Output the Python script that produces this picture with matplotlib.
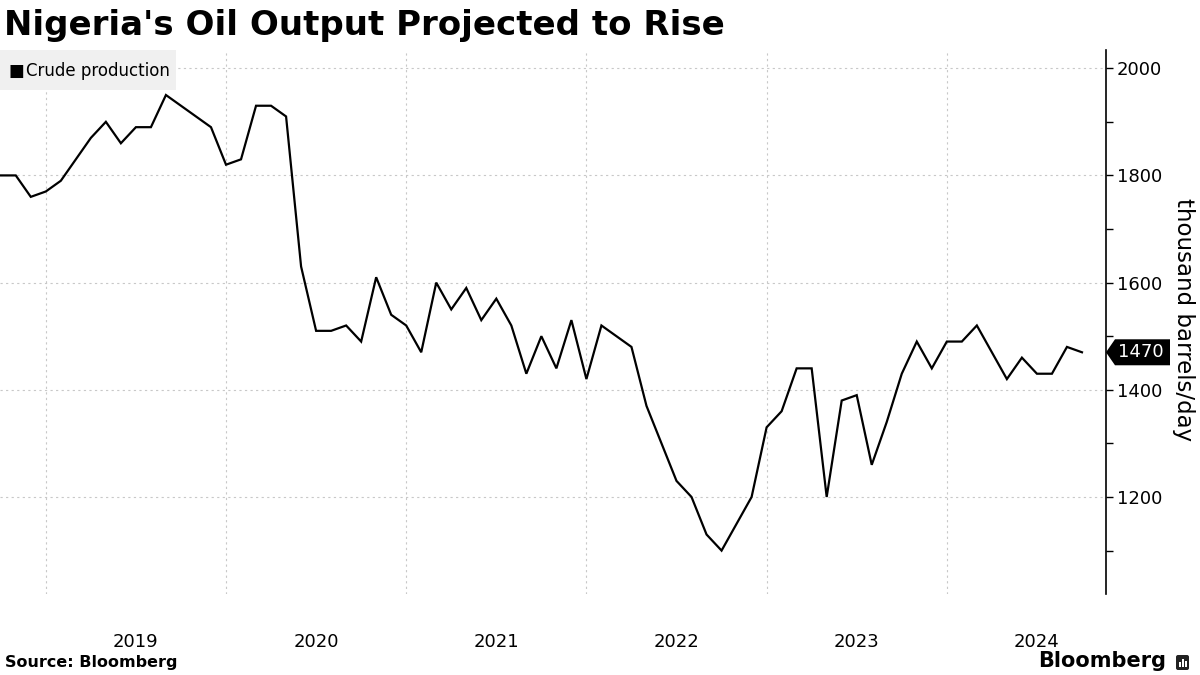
import matplotlib
matplotlib.use("Agg")
import matplotlib.pyplot as plt
from matplotlib.patches import FancyBboxPatch, Polygon, Rectangle
import numpy as np

# Monthly crude production, Oct 2018 .. Oct 2024 (thousand barrels/day)
production = [
    1800, 1800, 1760,                                                   # 2018 Oct-Dec
    1770, 1790, 1830, 1870, 1900, 1860, 1890, 1890, 1950, 1930, 1910, 1890,  # 2019
    1820, 1830, 1930, 1930, 1910, 1630, 1510, 1510, 1520, 1490, 1610, 1540,  # 2020
    1520, 1470, 1600, 1550, 1590, 1530, 1570, 1520, 1430, 1500, 1440, 1530,  # 2021
    1420, 1520, 1500, 1480, 1370, 1300, 1230, 1200, 1130, 1100, 1150, 1200,  # 2022
    1330, 1360, 1440, 1440, 1200, 1380, 1390, 1260, 1340, 1430, 1490, 1440,  # 2023
    1490, 1490, 1520, 1470, 1420, 1460, 1430, 1430, 1480, 1470,              # 2024 Jan-Oct
]
years = ["2019", "2020", "2021", "2022", "2023", "2024"]
y_ticks = [1200, 1400, 1600, 1800, 2000]
y_minor = [1100, 1300, 1500, 1700, 1900]
series_name = "Crude production"
y_label = "thousand barrels/day"
title = "Nigeria's Oil Output Projected to Rise"
source = "Source: Bloomberg"

W, H = 1200, 675
x = np.arange(len(production))
first_jan = 3  # index of Jan 2019
year_starts = [first_jan + 12 * i for i in range(len(years))]
year_mids = [s + 6 for s in year_starts]

fig = plt.figure(figsize=(12, 6.75), dpi=100)
ax = fig.add_axes([0.0, 1 - 594 / H, 1106 / W, (594 - 50) / H])

ax.plot(x, production, color="black", lw=1.6, solid_joinstyle="miter", zorder=3)
ax.set_xlim(-0.05, 73.6)
ax.set_ylim(1019, 2034)

# grid
for s in year_starts:
    ax.axvline(s, color="#c8c8c8", lw=0.8, ls=(0, (2, 3)), zorder=1)
for t in y_ticks:
    ax.axhline(t, color="#c8c8c8", lw=0.8, ls=(0, (2, 3)), zorder=1)

ax.yaxis.tick_right()
ax.set_yticks(y_ticks)
ax.set_yticks(y_minor, minor=True)
ax.set_yticklabels([str(v) for v in y_ticks])
ax.tick_params(axis="y", which="major", direction="out", length=5, width=1,
               labelsize=13, pad=3, colors="black")
ax.tick_params(axis="y", which="minor", direction="out", length=5, width=1)

ax.set_xticks(year_mids)
ax.set_xticklabels(years)
ax.tick_params(axis="x", length=0, labelsize=13, pad=28)

for sp in ["left", "top", "bottom"]:
    ax.spines[sp].set_visible(False)
ax.spines["right"].set_linewidth(1.2)

# last value badge
last = production[-1]
yc = ax.transData.transform((0, last))[1]
tip_x = 1106
hh = 13
badge = Polygon([(tip_x, yc), (tip_x + 9, yc + hh), (1170, yc + hh),
                 (1170, yc - hh), (tip_x + 9, yc - hh)], closed=True,
                transform=None, fc="black", ec="none", zorder=10)
fig.patches.append(badge)
fig.text(1141 / W, yc / H, str(last), fontsize=13, color="white",
         ha="center", va="center", zorder=11)

# legend box
leg_bg = Rectangle((0, H - 90), 176, 40, transform=None, fc="#f0f0f0", ec="none", zorder=0)
fig.patches.append(leg_bg)
fig.text(9 / W, 1 - 71 / H, "\u25A0", fontsize=12, va="center", ha="left")
fig.text(26 / W, 1 - 71 / H, series_name, fontsize=12, va="center", ha="left")

fig.text(4 / W, 1 - 25 / H, title, fontsize=24.5, fontweight="bold",
         va="center", ha="left")
fig.text(1184 / W, 1 - 320 / H, y_label, fontsize=16.5, rotation=270,
         va="center", ha="center")
fig.text(5 / W, 1 - 662 / H, source, fontsize=11.5, fontweight="bold",
         va="center", ha="left")
fig.text(1166 / W, 1 - 661 / H, "Bloomberg", fontsize=15, fontweight="bold",
         va="center", ha="right")
logo = FancyBboxPatch((1176, H - 670), 13, 15, boxstyle="round,pad=0,rounding_size=2",
                      transform=None, fc="#222222", ec="none")
fig.patches.append(logo)
for bx, bh in [(1179, 5), (1182, 8), (1185, 6)]:
    fig.patches.append(Rectangle((bx, H - 667), 1.6, bh, transform=None,
                                 fc="white", ec="none", zorder=5))

fig.savefig("out.png", dpi=100)
